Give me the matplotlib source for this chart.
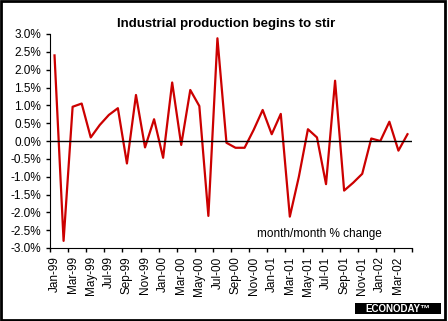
import numpy as np
import matplotlib.pyplot as plt
from matplotlib.patches import Rectangle

plt.rcParams['font.family'] = ['Liberation Sans', 'DejaVu Sans']

# monthly change in industrial production, Jan-99 .. Apr-02
months = ['Jan-99', 'Feb-99', 'Mar-99', 'Apr-99', 'May-99', 'Jun-99', 'Jul-99', 'Aug-99',
          'Sep-99', 'Oct-99', 'Nov-99', 'Dec-99', 'Jan-00', 'Feb-00', 'Mar-00', 'Apr-00',
          'May-00', 'Jun-00', 'Jul-00', 'Aug-00', 'Sep-00', 'Oct-00', 'Nov-00', 'Dec-00',
          'Jan-01', 'Feb-01', 'Mar-01', 'Apr-01', 'May-01', 'Jun-01', 'Jul-01', 'Aug-01',
          'Sep-01', 'Oct-01', 'Nov-01', 'Dec-01', 'Jan-02', 'Feb-02', 'Mar-02', 'Apr-02']
pct_change = [2.4, -2.8, 0.96, 1.05, 0.1, 0.45, 0.73, 0.92,
              -0.63, 1.29, -0.18, 0.61, -0.47, 1.64, -0.11, 1.43,
              0.98, -2.1, 2.88, -0.05, -0.19, -0.19, 0.31, 0.87,
              0.19, 0.76, -2.12, -1.0, 0.33, 0.1, -1.21, 1.69,
              -1.39, -1.17, -0.92, 0.07, 0.0, 0.54, -0.27, 0.19]

fig = plt.figure(figsize=(4.48, 3.21), dpi=100)
ax = fig.add_axes([50/448, 73/321, 362/448, 214/321])

x = np.arange(len(months))
ax.plot(x, pct_change, color='#cc0000', lw=1.6)
ax.axhline(0, color='black', lw=1)

ax.set_xlim(-0.5, len(months) - 0.5)
ax.set_ylim(-3.0, 3.0)
yt = np.arange(-3.0, 3.01, 0.5)
ax.set_yticks(yt)
ax.set_yticklabels(['%.1f%%' % v for v in yt], fontsize=8.5)

# tick marks sit between categories, labels on every other month
ax.set_xticks(np.arange(-0.5, len(months), 2))
ax.set_xticklabels([])
ax.set_xticks(x[::2], minor=True)
ax.set_xticklabels(months[::2], minor=True, rotation=90, fontsize=8.5)
ax.tick_params(axis='x', which='minor', length=0, pad=6)
ax.tick_params(axis='both', which='major', length=3, width=1, direction='out')

for s in ['top', 'right']:
    ax.spines[s].set_visible(False)

ax.text(29.3, -2.6, 'month/month % change', fontsize=8.5, ha='center', va='center')

fig.text(0.505, 0.925, 'Industrial production begins to stir', fontsize=9.5,
         fontweight='bold', ha='center', va='center')

# logo box
fig.patches.append(Rectangle((355/448, 7/321), 86/448, 11/321, transform=fig.transFigure,
                             facecolor='black', edgecolor='none'))
fig.text(398/448, 12.5/321, 'ECONODAY\u2122', color='white', fontsize=7, fontweight='bold',
         ha='center', va='center')

# outer frame
fig.patches.append(Rectangle((0.002, 0.003), 0.992, 0.994, transform=fig.transFigure,
                             facecolor='none', edgecolor='black', lw=2))

fig.savefig('out.png', dpi=100)
